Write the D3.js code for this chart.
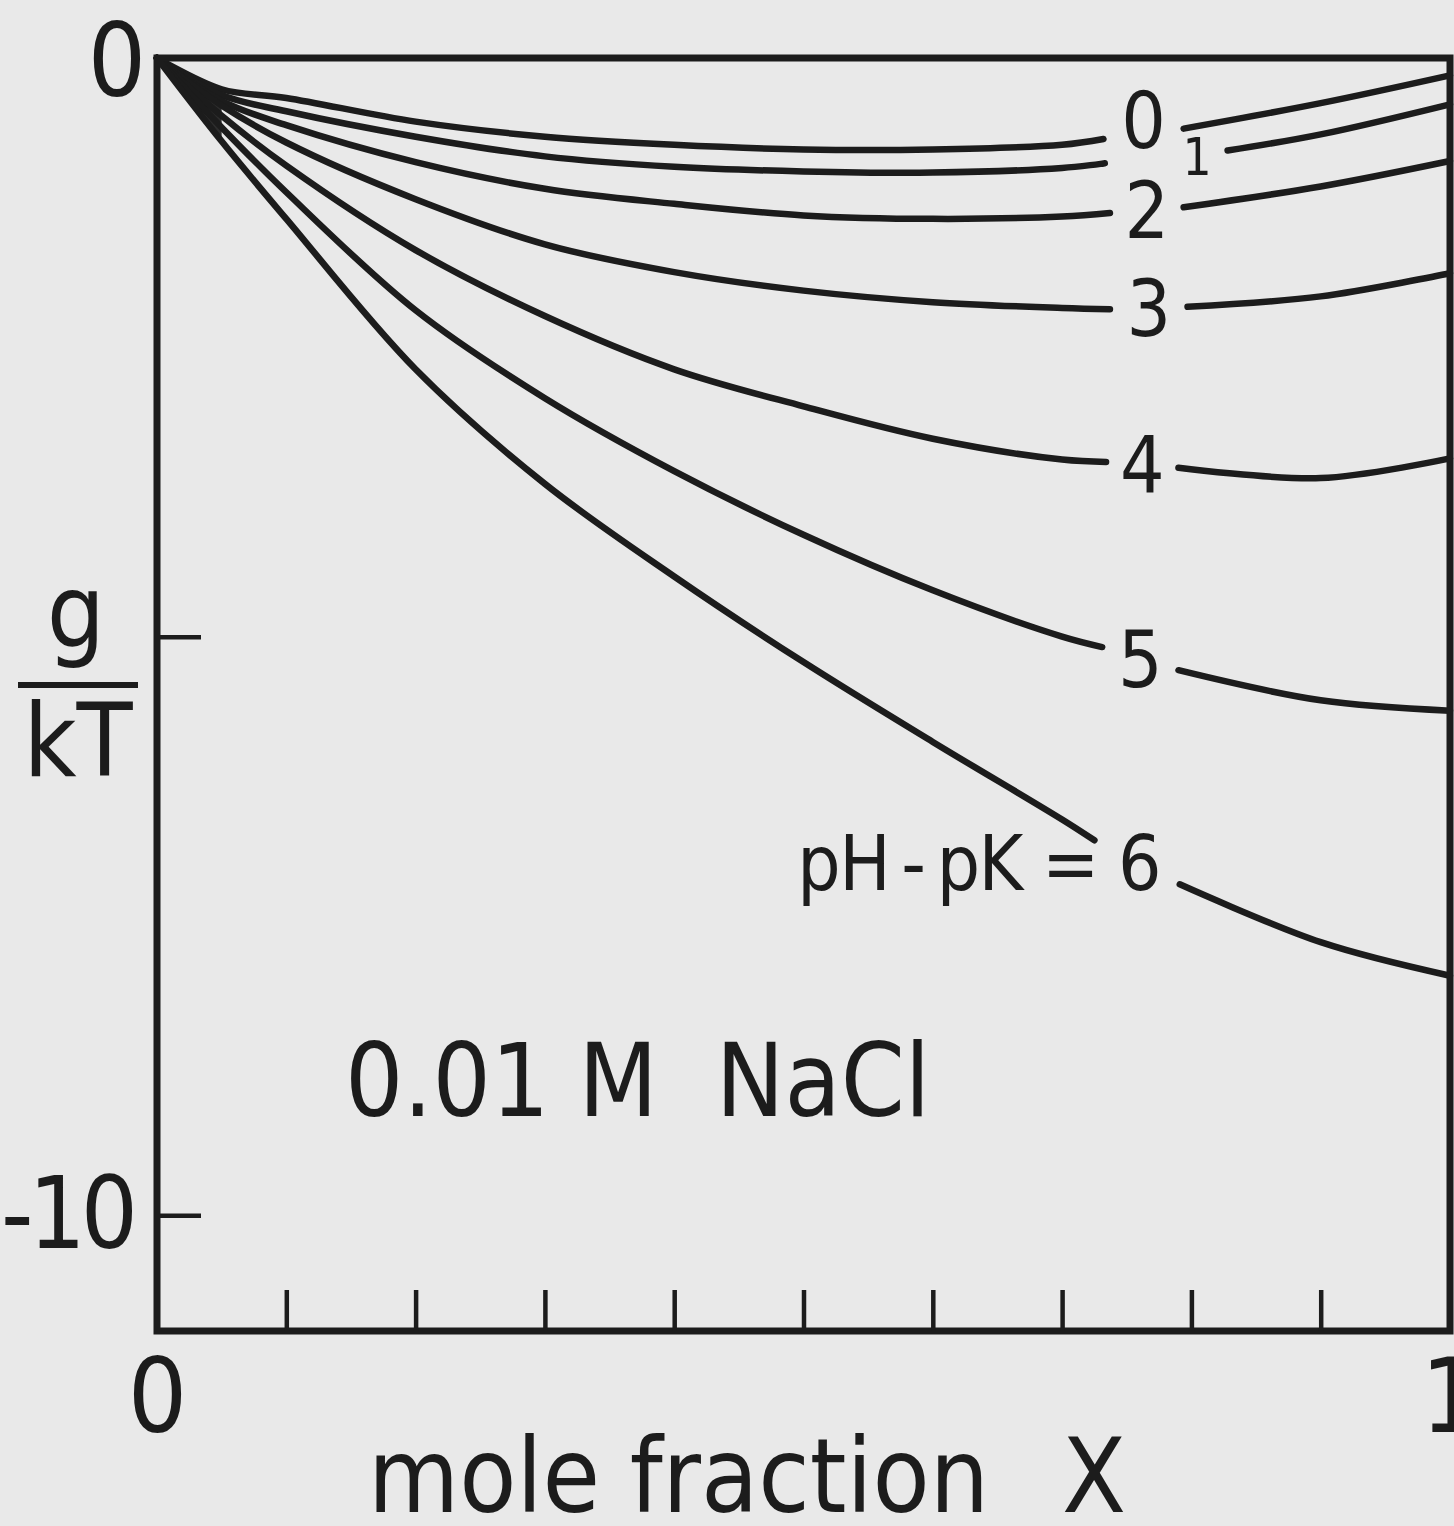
<!DOCTYPE html>
<html>
<head>
<meta charset="utf-8">
<script src="https://cdn.jsdelivr.net/npm/d3@7"></script>
<style>
	html, body { margin: 0; padding: 0; background: #e9e9e9; }
	svg { display: block; }
	text { font-family: 'DejaVu Sans Condensed', 'DejaVu Sans', sans-serif; font-stretch: condensed; fill: #1c1c1c; }
</style>
</head>
<body>
<div class="gibbs-chart"></div>
<script>
// mole fraction X at which the curves were read
const moleFraction = [0, 0.05, 0.1, 0.2, 0.3, 0.4, 0.5, 0.6, 0.7, 0.9, 1];

// g/kT for each pH-pK (0.01 M NaCl)
const pk0 = [0, -0.27, -0.345, -0.55, -0.68, -0.75, -0.79, -0.79, -0.75, -0.39, -0.15];
const pk1 = [0, -0.32, -0.46, -0.68, -0.85, -0.94, -0.98, -0.99, -0.95, -0.66, -0.40];
const pk2 = [0, -0.37, -0.58, -0.90, -1.13, -1.26, -1.36, -1.39, -1.37, -1.11, -0.89];
const pk3 = [0, -0.41, -0.73, -1.22, -1.61, -1.85, -2.01, -2.11, -2.16, -2.06, -1.86];
const pk4 = [0, -0.50, -0.93, -1.66, -2.23, -2.69, -3.01, -3.29, -3.47, -3.63, -3.46];
const pk5 = [0, -0.60, -1.16, -2.18, -2.94, -3.57, -4.12, -4.60, -5.00, -5.55, -5.64];
const pk6 = [0, -0.72, -1.39, -2.69, -3.68, -4.48, -5.22, -5.91, -6.58, -7.64, -7.93];

const curveLabels = ['0', '1', '2', '3', '4', '5', 'pH\u2009-\u2009pK = 6'];

// where each curve is broken for its label: X and g/kT at both ends of the gap
const gapX = [[0.732, 0.794], [0.733, 0.828], [0.737, 0.794], [0.737, 0.797], [0.734, 0.790], [0.731, 0.790], [0.725, 0.791]];
const gapG = [[-0.70, -0.61], [-0.91, -0.80], [-1.34, -1.29], [-2.17, -2.15], [-3.49, -3.54], [-5.09, -5.29], [-6.76, -7.14]];

const xTicks = [0, 0.1, 0.2, 0.3, 0.4, 0.5, 0.6, 0.7, 0.8, 0.9, 1];
const xTickLabels = ['0', '', '', '', '', '', '', '', '', '', '1'];
const yTicks = [0, -5, -10];
const yTickLabels = ['0', '', '-10'];

let series = [pk0, pk1, pk2, pk3, pk4, pk5, pk6],
	ink = '#1c1c1c',
	width = 1454,
	height = 1526,
	xScale = d3.scaleLinear().domain([0, 1]).range([157, 1450]),
	yScale = d3.scaleLinear().domain([-11, 0]).range([1331, 58]),
	smooth = d3.curveCatmullRom.alpha(0.5),
	// label nudges in px (layout only)
	labelDx = [0, 31, 0, 0, 0, 0, 23],
	labelDy = [-14, 0, 0, 0, 0, 0, 0],
	labelSize = [78, 51, 78, 78, 78, 78, 76],
	svg = null,
	line = null;

svg = d3.select('.gibbs-chart').append('svg')
	.attr('width', width)
	.attr('height', height);

line = d3.line()
	.curve(smooth)
	.x(d => xScale(d[0]))
	.y(d => yScale(d[1]));

// ink blot where the curves meet at the origin
svg.append('clipPath').attr('id', 'origin-clip')
	.append('rect')
	.attr('x', xScale(0))
	.attr('y', 0)
	.attr('width', xScale(0.05) - xScale(0))
	.attr('height', height);

svg.append('path')
	.datum(moleFraction.map((x, i) => [x, pk0[i], pk6[i]]))
	.attr('clip-path', 'url(#origin-clip)')
	.attr('fill', ink)
	.attr('opacity', 0.92)
	.attr('d', d3.area()
		.curve(smooth)
		.x(d => xScale(d[0]))
		.y0(d => yScale(d[1]))
		.y1(d => yScale(d[2])));

// curves, each in two pieces around its label
series.forEach(function (vals, k) {
	let pts = moleFraction.map((x, i) => [x, vals[i]]),
		left = pts.filter(p => p[0] < gapX[k][0]).concat([[gapX[k][0], gapG[k][0]]]),
		right = [[gapX[k][1], gapG[k][1]]].concat(pts.filter(p => p[0] > gapX[k][1]));

	svg.selectAll(null)
		.data([left, right])
		.enter().append('path')
		.attr('fill', 'none')
		.attr('stroke', ink)
		.attr('stroke-width', 6.5)
		.attr('stroke-linecap', 'round')
		.attr('stroke-linejoin', 'round')
		.attr('d', line);

	let cx = (xScale(gapX[k][0]) + xScale(gapX[k][1])) / 2,
		cy = (yScale(gapG[k][0]) + yScale(gapG[k][1])) / 2;

	svg.append('text')
		.attr('x', cx + labelDx[k])
		.attr('y', cy + labelDy[k])
		.attr('dy', '0.36em')
		.attr('text-anchor', k === 6 ? 'end' : 'middle')
		.attr('font-size', labelSize[k])
		.attr('letter-spacing', k === 6 ? -1.5 : null)
		.text(curveLabels[k]);
});

// frame
svg.append('rect')
	.attr('x', xScale(0))
	.attr('y', yScale(0))
	.attr('width', xScale(1) - xScale(0))
	.attr('height', yScale(-11) - yScale(0))
	.attr('fill', 'none')
	.attr('stroke', ink)
	.attr('stroke-width', 7);

// Y axis, ticks pointing inward
let yAxis = svg.append('g')
	.attr('transform', 'translate(' + xScale(0) + ',0)')
	.call(d3.axisLeft(yScale)
		.tickValues(yTicks)
		.tickSizeInner(-44)
		.tickSizeOuter(0)
		.tickPadding(24)
		.tickFormat((d, i) => yTickLabels[i]));
yAxis.select('.domain').remove();
yAxis.selectAll('line').attr('stroke', ink).attr('stroke-width', 4.5);
yAxis.selectAll('text')
	.attr('font-size', d => d === -10 ? 100 : 102)
	.attr('font-family', null)
	.attr('fill', ink)
	.attr('letter-spacing', d => d === -10 ? -5 : null)
	.attr('dx', d => d === 0 ? 13 : 0)
	.attr('dy', d => d === 0 ? '0.37em' : '0.32em');

// X axis
let xAxis = svg.append('g')
	.attr('transform', 'translate(0,' + yScale(-11) + ')')
	.call(d3.axisBottom(xScale)
		.tickValues(xTicks)
		.tickSizeInner(-41)
		.tickSizeOuter(0)
		.tickPadding(27)
		.tickFormat((d, i) => xTickLabels[i]));
xAxis.select('.domain').remove();
xAxis.selectAll('line').attr('stroke', ink).attr('stroke-width', 4.5);
xAxis.selectAll('text')
	.attr('font-size', 104)
	.attr('font-family', null)
	.attr('fill', ink);

// axis titles
svg.append('text')
	.attr('x', 368)
	.attr('y', 1512)
	.attr('font-size', 104)
	.text('mole fraction');
svg.append('text')
	.attr('x', 1094)
	.attr('y', 1512)
	.attr('text-anchor', 'middle')
	.attr('font-size', 104)
	.text('X');

svg.append('text')
	.attr('x', 76)
	.attr('y', 647)
	.attr('text-anchor', 'middle')
	.attr('font-size', 102)
	.text('g');
svg.append('line')
	.attr('x1', 18)
	.attr('x2', 138)
	.attr('y1', 685)
	.attr('y2', 685)
	.attr('stroke', ink)
	.attr('stroke-width', 6);
svg.append('text')
	.attr('x', 78)
	.attr('y', 776)
	.attr('text-anchor', 'middle')
	.attr('font-size', 102)
	.text('kT');

// condition label
svg.append('text')
	.attr('x', 345)
	.attr('y', 1116)
	.attr('font-size', 102)
	.style('white-space', 'pre')
	.text('0.01 M  NaCl');
</script>
</body>
</html>
